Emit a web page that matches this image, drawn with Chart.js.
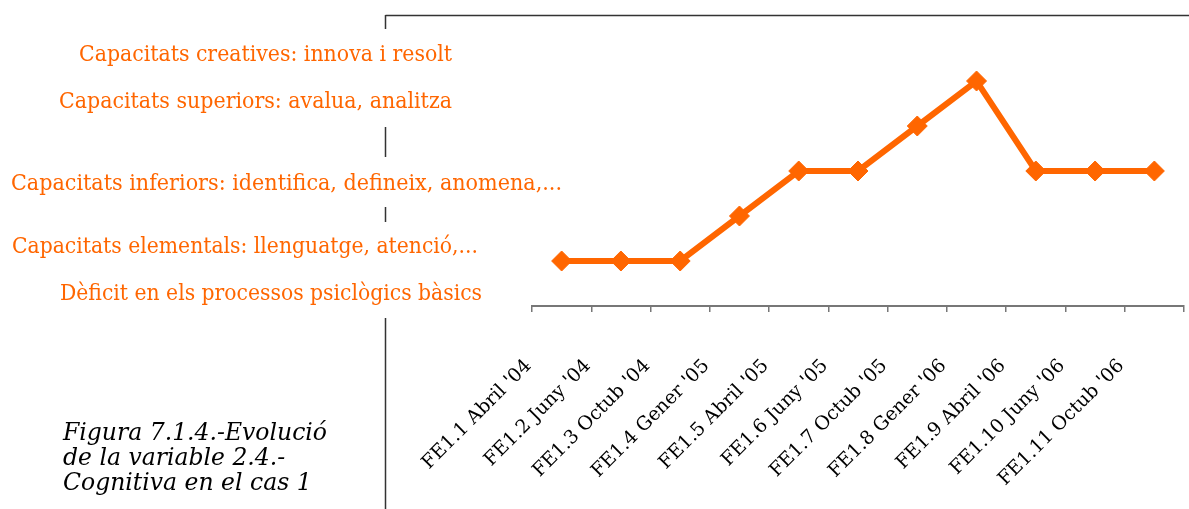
<!DOCTYPE html>
<html>
<head>
<meta charset="utf-8">
<script src="https://cdn.jsdelivr.net/npm/chart.js@4.4.1/dist/chart.umd.min.js"></script>
<style>
  html, body { margin: 0; padding: 0; background: #fff; }
  #wrap { position: relative; width: 1189px; height: 509px; }
  canvas { display: block; }
</style>
</head>
<body>
<div id="wrap"><canvas id="c" width="1189" height="509"></canvas></div>
<script>
// ---- data ----
const categories = [
  "FE1.1 Abril '04", "FE1.2 Juny '04", "FE1.3 Octub '04", "FE1.4 Gener '05",
  "FE1.5 Abril '05", "FE1.6 Juny '05", "FE1.7 Octub '05", "FE1.8 Gener '06",
  "FE1.9 Abril '06", "FE1.10 Juny '06", "FE1.11 Octub '06"
];
const values = [1, 1, 1, 2, 3, 3, 4, 5, 3, 3, 3];
const levelLabels = [
  "Capacitats creatives: innova i resolt",
  "Capacitats superiors: avalua, analitza",
  "Capacitats inferiors: identifica, defineix, anomena,...",
  "Capacitats elementals: llenguatge, atenció,...",
  "Dèficit en els processos psiclògics bàsics"
];
const captionLines = [
  "Figura 7.1.4.-Evolució",
  "de la variable 2.4.-",
  "Cognitiva en el cas 1"
];

const ORANGE = '#FF6600';

function drawScaled(ctx, text, x, y, sx, font, color) {
  ctx.save();
  ctx.font = font;
  ctx.fillStyle = color;
  ctx.textBaseline = 'alphabetic';
  ctx.textAlign = 'left';
  ctx.translate(x, y);
  ctx.scale(sx, 1);
  ctx.fillText(text, 0, 0);
  ctx.restore();
}
function fitScale(ctx, text, w, font) {
  ctx.save();
  ctx.font = font;
  const m = ctx.measureText(text).width;
  ctx.restore();
  return w / m;
}

const decorPlugin = {
  id: 'decor',
  afterDraw(chart) {
    const ctx = chart.ctx;
    // frame lines
    ctx.save();
    ctx.strokeStyle = '#333';
    ctx.lineWidth = 1.5;
    ctx.beginPath();
    ctx.moveTo(385.5, 15.5); ctx.lineTo(1189, 15.5);
    [[15, 29], [127, 157], [207, 222], [318, 509]].forEach(s => {
      ctx.moveTo(385.5, s[0]); ctx.lineTo(385.5, s[1]);
    });
    ctx.stroke();
    ctx.restore();
    // level labels (left, baseline, width)
    const lf = '23px "DejaVu Serif"';
    const pos = [[79, 61, 373], [59, 108, 393], [11, 190, 551], [12, 253, 466], [60, 300, 422]];
    levelLabels.forEach((t, i) => {
      drawScaled(ctx, t, pos[i][0], pos[i][1], fitScale(ctx, t, pos[i][2], lf), lf, ORANGE);
    });
    // caption
    const cf = 'italic 25px "DejaVu Serif"';
    const sc = fitScale(ctx, captionLines[0], 264, cf);
    const base = [440, 465, 490];
    captionLines.forEach((t, i) => {
      drawScaled(ctx, t, 63, base[i], sc, cf, '#000');
    });
  }
};

new Chart(document.getElementById('c'), {
  type: 'line',
  data: {
    labels: categories,
    datasets: [{
      data: values,
      borderColor: ORANGE,
      backgroundColor: ORANGE,
      borderWidth: 6,
      pointStyle: 'rectRot',
      pointRadius: 10,
      pointBorderWidth: 1,
      pointBackgroundColor: ORANGE,
      pointBorderColor: ORANGE,
      tension: 0,
      fill: false,
      clip: false
    }]
  },
  options: {
    responsive: false,
    animation: false,
    events: [],
    layout: { autoPadding: false, padding: { left: 532, right: 5, top: 36, bottom: 0 } },
    plugins: { legend: { display: false }, tooltip: { enabled: false } },
    scales: {
      x: {
        offset: true,
        grid: {
          offset: true,
          drawOnChartArea: false,
          drawTicks: true,
          tickLength: 6,
          color: '#777',
          lineWidth: 1.5
        },
        border: { display: true, color: '#777', width: 2 },
        ticks: {
          autoSkip: false,
          minRotation: 45,
          maxRotation: 45,
          padding: 43,
          labelOffset: -33,
          color: '#000',
          font: { family: '"DejaVu Serif"', size: 19 }
        },
        afterFit(scale) {
          scale.height = 203;
          scale.paddingLeft = 0;
          scale.paddingRight = 0;
        }
      },
      y: {
        display: false,
        min: 0,
        max: 6
      }
    }
  },
  plugins: [decorPlugin]
});
</script>
</body>
</html>
